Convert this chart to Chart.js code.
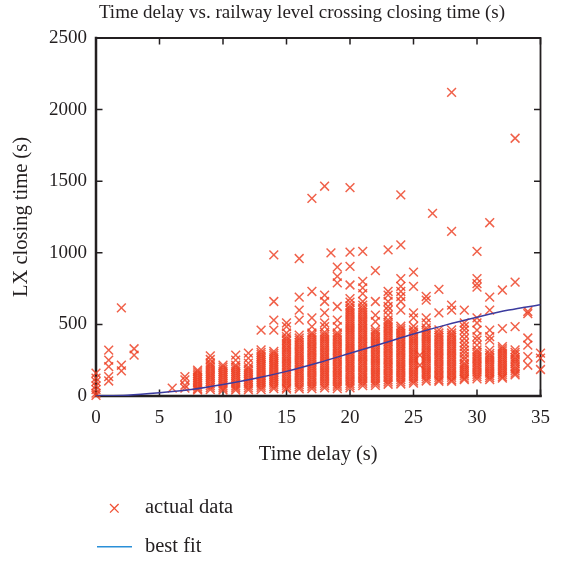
<!DOCTYPE html>
<html><head><meta charset="utf-8">
<script src="https://cdn.jsdelivr.net/npm/chart.js@4/dist/chart.umd.min.js"></script>
<style>
html,body{margin:0;padding:0;background:#fff;}
#wrap{position:relative;width:561px;height:561px;overflow:hidden;}
#c{position:absolute;left:0;top:0;}
.t{position:absolute;font-family:"Liberation Serif","DejaVu Serif",serif;color:#231f20;white-space:nowrap;line-height:1;}
svg{position:absolute;left:0;top:0;}
</style></head><body>
<div id="wrap">
<canvas id="c" width="561" height="561"></canvas>
<div class="t" style="left:0;width:604px;text-align:center;top:2px;font-size:19px;">Time delay vs. railway level crossing closing time (s)</div>
<svg width="561" height="561">
<line x1="110" y1="504" x2="118.6" y2="512.6" stroke="rgb(240,80,52)" stroke-width="1.3"/>
<line x1="118.6" y1="504" x2="110" y2="512.6" stroke="rgb(240,80,52)" stroke-width="1.3"/>
<line x1="97" y1="546.7" x2="132" y2="546.7" stroke="#2a8fd8" stroke-width="1.6"/>
</svg>
<div class="t" style="left:145px;top:496px;font-size:20.5px;">actual data</div>
<div class="t" style="left:145px;top:534.5px;font-size:20.5px;">best fit</div>
</div>
<script>
// Time delay columns (s)
const delays = [0, 1, 2, 3, 6, 7, 8, 9, 10, 11, 12, 13, 14, 15, 16, 17, 18, 18.5, 19, 20, 21, 22, 23, 24, 25, 25.5, 26, 26.5, 27, 28, 29, 30, 31, 32, 33, 34, 35];
// LX closing time values (s) observed at each delay
const closing = [
  [160, 125, 100, 70, 45, 20, 5],
  [320, 250, 205, 135, 105],
  [615, 215, 175],
  [330, 285],
  [55],
  [135, 112, 75, 55],
  [180, 168, 155, 142, 129, 116, 103, 90, 77, 64, 51, 42],
  [280, 255, 232, 218, 203, 189, 174, 160, 145, 131, 116, 102, 87, 73, 58, 45],
  [215, 201, 186, 172, 157, 143, 128, 114, 99, 85, 70, 56, 42],
  [285, 250, 215, 201, 186, 172, 157, 143, 128, 114, 99, 85, 70, 56, 42],
  [300, 265, 230, 202, 188, 173, 159, 144, 130, 115, 101, 86, 72, 57, 43],
  [460, 322, 305, 291, 276, 262, 247, 233, 218, 204, 190, 175, 161, 146, 132, 118, 103, 89, 74, 60, 45],
  [985, 660, 530, 460, 312, 297, 283, 268, 254, 239, 225, 211, 196, 182, 167, 153, 138, 124, 110, 95, 81, 66, 52],
  [510, 485, 440, 415, 399, 384, 368, 353, 337, 322, 306, 291, 275, 260, 244, 229, 213, 198, 182, 167, 151, 136, 120, 105, 89, 74, 58, 48],
  [960, 690, 600, 530, 425, 405, 390, 374, 359, 343, 328, 312, 297, 281, 266, 250, 235, 219, 204, 188, 173, 157, 142, 126, 111, 95, 80, 64, 50],
  [1380, 730, 545, 485, 440, 425, 409, 394, 378, 363, 347, 332, 316, 301, 285, 270, 254, 239, 223, 208, 192, 177, 161, 146, 130, 115, 99, 84, 68, 52],
  [1465, 705, 660, 580, 510, 485, 445, 429, 414, 398, 383, 367, 352, 336, 321, 305, 290, 274, 259, 243, 228, 212, 197, 181, 166, 150, 135, 119, 104, 88, 73, 57],
  [1000],
  [900, 835, 790, 625, 530, 485, 440, 424, 409, 393, 378, 362, 347, 331, 316, 300, 285, 269, 254, 238, 223, 207, 192, 176, 161, 145, 130, 114, 99, 83, 68, 52],
  [1455, 1005, 905, 775, 680, 655, 630, 614, 599, 583, 568, 552, 537, 521, 506, 490, 475, 459, 444, 428, 413, 397, 382, 366, 351, 335, 320, 304, 289, 273, 258, 242, 227, 211, 196, 180, 165, 149, 134, 118, 103, 87, 72, 57],
  [1010, 800, 755, 715, 660, 635, 615, 599, 584, 568, 553, 537, 522, 506, 491, 475, 460, 444, 429, 413, 398, 382, 367, 351, 336, 320, 305, 289, 274, 258, 243, 227, 212, 196, 181, 165, 150, 134, 119, 103, 88, 72],
  [875, 660, 565, 520, 462, 446, 431, 415, 400, 384, 369, 353, 338, 322, 307, 291, 276, 260, 245, 229, 214, 198, 183, 167, 152, 136, 121, 105, 90, 74],
  [1020, 730, 705, 660, 625, 600, 565, 532, 516, 501, 485, 470, 454, 439, 423, 408, 392, 377, 361, 346, 330, 315, 299, 284, 268, 253, 237, 222, 206, 191, 175, 160, 144, 129, 113, 98, 82],
  [1405, 1055, 820, 765, 730, 695, 660, 600, 487, 471, 456, 440, 425, 409, 394, 378, 363, 347, 332, 316, 301, 285, 270, 254, 239, 223, 208, 192, 177, 161, 146, 130, 115, 99, 84],
  [865, 765, 580, 545, 487, 462, 446, 431, 415, 400, 384, 369, 353, 338, 322, 307, 291, 276, 260, 245, 229, 214, 198, 183, 167, 152, 136, 121, 105, 90],
  [285, 215],
  [695, 670, 545, 510, 476, 460, 445, 429, 414, 398, 383, 367, 352, 336, 321, 305, 290, 274, 259, 243, 228, 212, 197, 181, 166, 150, 135, 119, 105],
  [1275],
  [745, 580, 462, 440, 424, 409, 393, 378, 362, 347, 331, 316, 300, 285, 269, 254, 238, 223, 207, 192, 176, 161, 145, 130, 114, 103],
  [2120, 1150, 635, 600, 462, 440, 424, 409, 393, 378, 362, 347, 331, 316, 300, 285, 269, 254, 238, 223, 207, 192, 176, 161, 145, 130, 114, 103],
  [600, 510, 485, 460, 430, 400, 370, 345, 320, 300, 275, 255, 230, 215, 200, 185, 170, 155, 140, 125, 115],
  [1010, 820, 785, 760, 545, 510, 460, 415, 390, 355, 322, 306, 291, 275, 260, 244, 229, 213, 198, 182, 167, 151, 136, 120],
  [1210, 690, 600, 460, 415, 390, 320, 298, 283, 267, 252, 236, 221, 205, 190, 174, 159, 143, 128, 115],
  [740, 470, 345, 330, 315, 300, 285, 270, 255, 240, 225, 210, 195, 180, 165, 150, 135, 125],
  [1800, 795, 485, 322, 305, 290, 270, 255, 240, 225, 205, 190, 175, 160, 148],
  [590, 575, 405, 355, 275, 215],
  [300, 265, 185]
];
// Best fit curve
const fitX = [0, 2.5, 5, 7.5, 10, 12.5, 15, 17.5, 20, 22.5, 25, 27.5, 30, 32.5, 35];
const fitY = [0, 5, 22, 45, 80, 122, 172, 232, 298, 365, 433, 495, 550, 600, 638];
// Axis ticks
const xTicks = [0, 5, 10, 15, 20, 25, 30, 35];
const yTicks = [0, 500, 1000, 1500, 2000, 2500];

const points = [];
delays.forEach((d, i) => closing[i].forEach(v => points.push({x: d, y: v})));
const fitPts = fitX.map((x, i) => ({x: x, y: fitY[i]}));

const FONT = '"Liberation Serif", "DejaVu Serif", serif';
const INK = '#231f20';

const framePlugin = {
  id: 'frame',
  beforeDatasetsDraw(chart) {
    const {ctx, chartArea: a, scales: {x, y}} = chart;
    ctx.save();
    ctx.strokeStyle = INK;
    ctx.lineCap = 'square';
    ctx.lineWidth = 1.8;
    ctx.beginPath();
    ctx.moveTo(a.left, a.top); ctx.lineTo(a.right, a.top); ctx.lineTo(a.right, a.bottom);
    ctx.stroke();
    ctx.lineWidth = 2.5;
    ctx.beginPath();
    ctx.moveTo(a.left, a.top); ctx.lineTo(a.left, a.bottom); ctx.lineTo(a.right, a.bottom);
    ctx.stroke();
    ctx.lineWidth = 1.5;
    ctx.lineCap = 'butt';
    const L = 6.5;
    ctx.beginPath();
    xTicks.forEach(v => {
      const px = x.getPixelForValue(v);
      ctx.moveTo(px, a.bottom); ctx.lineTo(px, a.bottom - L);
      ctx.moveTo(px, a.top); ctx.lineTo(px, a.top + L);
    });
    yTicks.forEach(v => {
      const py = y.getPixelForValue(v);
      ctx.moveTo(a.left, py); ctx.lineTo(a.left + L, py);
      ctx.moveTo(a.right, py); ctx.lineTo(a.right - L, py);
    });
    ctx.stroke();
    ctx.restore();
  }
};

new Chart(document.getElementById('c'), {
  type: 'scatter',
  data: {
    datasets: [
      {
        label: 'best fit', type: 'line', data: fitPts,
        borderColor: '#3b3b9e', borderWidth: 1.5, pointRadius: 0,
        cubicInterpolationMode: 'monotone', fill: false, order: 1
      },
      {
        label: 'actual data', data: points, showLine: false,
        pointStyle: 'crossRot', pointRadius: 6.2,
        pointBorderColor: 'rgba(237,62,34,0.82)', pointBackgroundColor: 'rgba(0,0,0,0)',
        pointBorderWidth: 1.5, clip: false, order: 2
      }
    ]
  },
  options: {
    responsive: false, animation: false,
    layout: {padding: {left: 0, right: 10, top: 38, bottom: 85}},
    plugins: {legend: {display: false}, title: {display: false}, tooltip: {enabled: false}},
    scales: {
      x: {
        type: 'linear', min: 0, max: 35,
        afterBuildTicks(s) { s.ticks = xTicks.map(v => ({value: v})); },
        afterFit(s) { s.height = 80; },
        ticks: {padding: 11, color: INK, font: {family: FONT, size: 19}, maxRotation: 0, callback: v => String(v)},
        grid: {display: false, drawTicks: false},
        border: {display: false},
        title: {display: true, text: 'Time delay (s)', color: INK, font: {family: FONT, size: 20.5}, padding: {top: 0, bottom: 9}}
      },
      y: {
        type: 'linear', min: 0, max: 2500,
        afterBuildTicks(s) { s.ticks = yTicks.map(v => ({value: v})); },
        afterFit(s) { s.width = 96; },
        ticks: {padding: 9, color: INK, font: {family: FONT, size: 19}, callback: v => String(v)},
        grid: {display: false, drawTicks: false},
        border: {display: false},
        title: {display: true, text: 'LX closing time (s)', color: INK, font: {family: FONT, size: 20.5}, padding: {top: 9.5, bottom: 0}}
      }
    }
  },
  plugins: [framePlugin]
});
</script>
</body></html>
